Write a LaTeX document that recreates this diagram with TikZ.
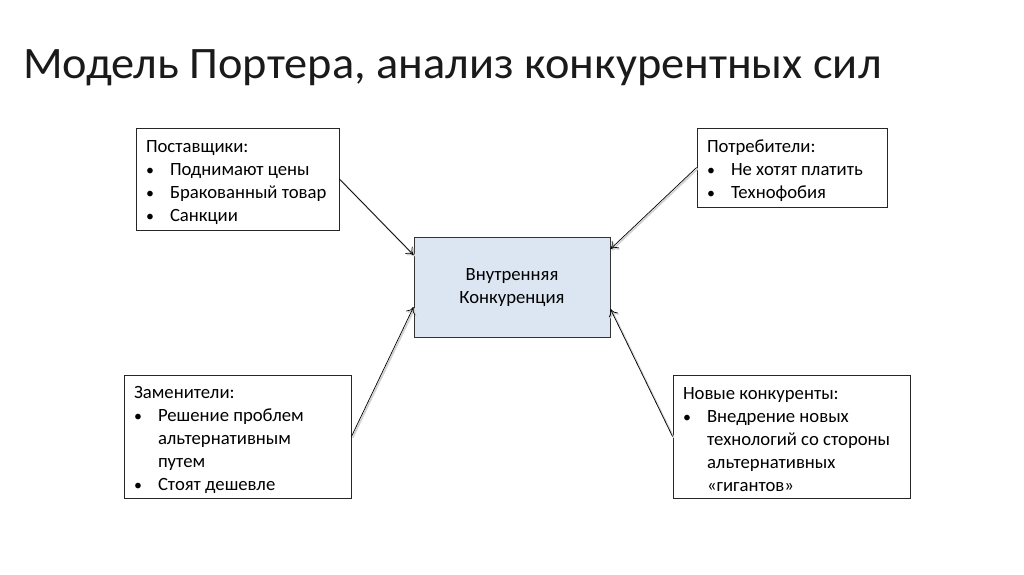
\documentclass[tikz,border=0pt]{standalone}
\usepackage{fontspec}
\setmainfont{Carlito}
\usetikzlibrary{arrows.meta}
\definecolor{corefill}{HTML}{DCE6F2}
\definecolor{titlegray}{HTML}{1A1A1A}
\newcommand{\bul}{\makebox[24pt][l]{\scalebox{0.85}{•}}}
\newcommand{\ind}{\hspace*{24pt}}
\begin{document}
\begin{tikzpicture}[x=1pt,y=-1pt,
  box/.style={draw=black!85, line width=0.9pt, inner sep=0pt, align=flush left,
    font=\fontsize{18.7}{23}\selectfont, execute at begin node={\rule{0pt}{19pt}}},
  corebox/.style={draw=black!80, fill=corefill, line width=0.9pt, align=flush center, font=\fontsize{18.7}{23}\selectfont},
  conn/.style={line width=0.7pt, -{To[length=7pt,width=10pt]},
    preaction={draw=black!18, line width=1.6pt, transform canvas={shift={(1.2pt,-1.2pt)}}}}]
\useasboundingbox (0,0) rectangle (1024,574);
\node[anchor=base west, font=\fontsize{45}{50}\selectfont, text=titlegray, inner sep=0pt] (title) at (23,78) {\scalebox{1.03}[1]{Модель Портера, анализ конкурентных сил}};
\node[corebox, minimum width=196pt, minimum height=100pt] (core) at (512,287.5) {Внутренняя\\Конкуренция};
\node[box, minimum width=203pt, minimum height=102pt, text width=183pt] (sup) at (237.5,179) {Поставщики:\\\bul Поднимают цены\\\bul Бракованный товар\\\bul Санкции};
\node[box, minimum width=190pt, minimum height=79pt, text width=170pt] (con) at (792,167.5) {Потребители:\\\bul Не хотят платить\\\bul Технофобия};
\node[box, minimum width=227pt, minimum height=123pt, text width=207pt] (sub) at (237.5,436.5) {Заменители:\\\bul Решение проблем\\\ind альтернативным\\\ind путем\\\bul Стоят дешевле};
\node[box, minimum width=237pt, minimum height=123pt, text width=217pt] (new) at (791.5,436.5) {Новые конкуренты:\\\bul Внедрение новых\\\ind технологий со стороны\\\ind альтернативных\\\ind «гигантов»};
\draw[conn] (sup.east) -- ([yshift=32.5pt]core.west);
\draw[conn] (con.west) -- ([yshift=38.5pt]core.east);
\draw[conn] (sub.east) -- ([yshift=-19.5pt]core.west);
\draw[conn] (new.west) -- ([yshift=-21.5pt]core.east);
\end{tikzpicture}
\end{document}
